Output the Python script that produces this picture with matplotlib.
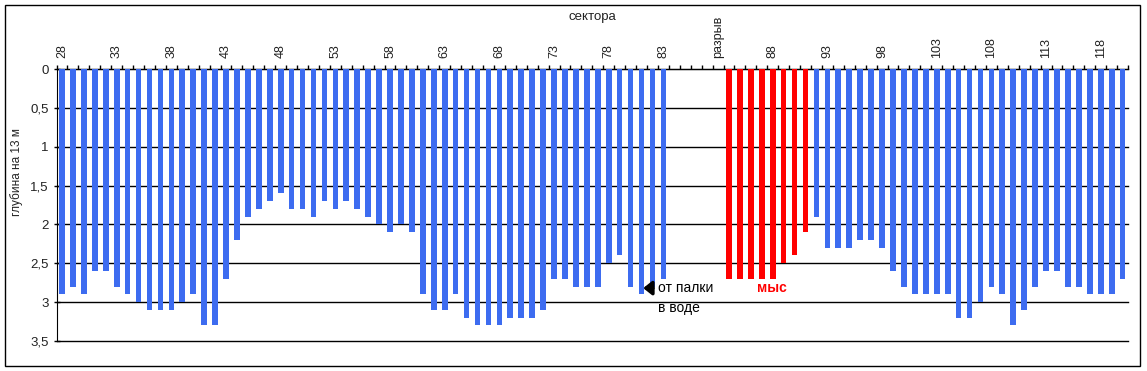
import matplotlib.pyplot as plt
from matplotlib.patches import Rectangle

plt.rcParams['font.family'] = ['Liberation Sans', 'DejaVu Sans']

# sectors 28..83, then the gap, then 84..120
sectors_a = [str(s) for s in range(28, 84)]
gap = ['', '', '', '', 'разрыв']
sectors_b = [str(s) for s in range(84, 121)]
categories = sectors_a + gap + sectors_b

# depth on 13 m, sectors 28..83
depth_a = [2.9, 2.8, 2.9, 2.6, 2.6, 2.8, 2.9, 3.0, 3.1, 3.1,
           3.1, 3.0, 2.9, 3.3, 3.3, 2.7, 2.2, 1.9, 1.8, 1.7,
           1.6, 1.8, 1.8, 1.9, 1.7, 1.8, 1.7, 1.8, 1.9, 2.0,
           2.1, 2.0, 2.1, 2.9, 3.1, 3.1, 2.9, 3.2, 3.3, 3.3,
           3.3, 3.2, 3.2, 3.2, 3.1, 2.7, 2.7, 2.8, 2.8, 2.8,
           2.5, 2.4, 2.8, 2.9, 2.8, 2.7]
# cape ("мыс"), sectors 84..91
depth_cape = [2.7, 2.7, 2.7, 2.7, 2.7, 2.5, 2.4, 2.1]
# sectors 92..120
depth_b = [1.9, 2.3, 2.3, 2.3, 2.2, 2.2, 2.3, 2.6, 2.8, 2.9,
           2.9, 2.9, 2.9, 3.2, 3.2, 3.0, 2.8, 2.9, 3.3, 3.1,
           2.8, 2.6, 2.6, 2.8, 2.8, 2.9, 2.9, 2.9, 2.7]

blue = '#3d6cf0'
red = '#ff0000'

x_a = list(range(len(sectors_a)))
start_b = len(sectors_a) + len(gap)
x_cape = list(range(start_b, start_b + len(depth_cape)))
x_b = list(range(start_b + len(depth_cape), len(categories)))

fig = plt.figure(figsize=(11.47, 3.71), dpi=100)
ax = fig.add_axes([0.0493, 0.081, 0.9342, 0.733])

ax.bar(x_a, depth_a, width=0.52, color=blue, zorder=3)
ax.bar(x_cape, depth_cape, width=0.52, color=red, zorder=3)
ax.bar(x_b, depth_b, width=0.52, color=blue, zorder=3)

ax.set_xlim(-0.5, len(categories) - 0.5)
ax.set_ylim(3.5, 0)

yt = [0, 0.5, 1, 1.5, 2, 2.5, 3, 3.5]
ax.set_yticks(yt)
ax.set_yticklabels([('%g' % v).replace('.', ',') for v in yt], fontsize=9.5, color='#222222')
ax.yaxis.grid(True, color='black', linewidth=1, zorder=1)
for gl in ax.get_ygridlines():
    gl.set_clip_on(False)
ax.tick_params(axis='y', direction='inout', length=5, width=1, pad=3)

ax.xaxis.tick_top()
major = list(range(0, len(categories), 5))
ax.set_xticks(major)
ax.set_xticklabels([categories[i] for i in major], rotation=90, fontsize=9, color='#222222')
ax.set_xticks([i - 0.5 for i in range(len(categories) + 1)], minor=True)
ax.tick_params(axis='x', which='major', length=0, pad=8)
ax.tick_params(axis='x', which='minor', direction='out', length=3, width=1, top=True, bottom=False)

fig.text(592 / 1147, 1 - 17 / 371, 'сектора', fontsize=9.5, ha='center', va='center', color='#222222')
ax.set_ylabel('глубина на 13 м', fontsize=8.5, color='#222222')
ax.yaxis.set_label_coords(-0.031, 0.62)

for side in ['right', 'bottom']:
    ax.spines[side].set_visible(False)
ax.spines['left'].set_color('black')
ax.spines['top'].set_color('black')

# notes
ax.annotate('', xy=(52.9, 2.82), xytext=(54.3, 2.82),
            arrowprops=dict(arrowstyle='-|>,head_length=0.5,head_width=0.4', color='black', lw=2.5))
ax.text(54.5, 2.82, 'от палки', fontsize=10, va='center', ha='left')
ax.text(54.5, 3.08, 'в воде', fontsize=10, va='center', ha='left')
ax.text(64.9, 2.82, 'мыс', fontsize=10, va='center', ha='center', color=red, fontweight='bold')

fig.patches.append(Rectangle((5 / 1147, 5 / 371), 1135 / 1147, 361 / 371,
                             transform=fig.transFigure, fill=False, edgecolor='black', linewidth=1))

fig.savefig('out.png', dpi=100)
